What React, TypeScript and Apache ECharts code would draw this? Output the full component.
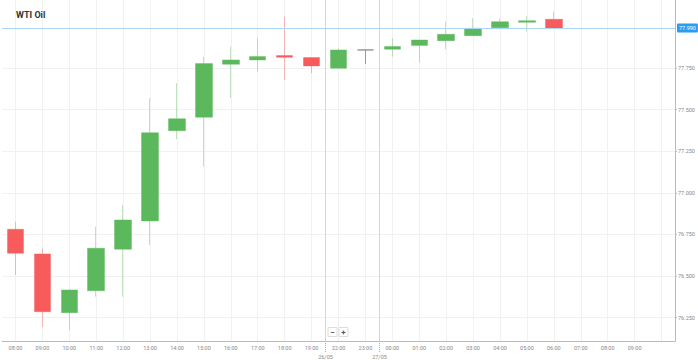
import React, { useEffect, useRef } from 'react';
import * as echarts from 'echarts';

const categories = ['08:00','09:00','10:00','11:00','12:00','13:00','14:00','15:00','16:00','17:00','18:00','19:00','22:00','23:00','00:00','01:00','02:00','03:00','04:00','05:00','06:00','07:00','08:00','09:00',''];
const opens  = [76.781, 76.633, 76.280, 76.412, 76.661, 76.831, 77.373, 77.454, 77.772, 77.798, 77.824, 77.812, 77.748, 77.858, 77.862, 77.884, 77.914, 77.944, 77.992, 78.024, 78.042];
const closes = [76.637, 76.286, 76.417, 76.667, 76.837, 77.361, 77.445, 77.776, 77.798, 77.818, 77.814, 77.762, 77.858, 77.858, 77.878, 77.918, 77.952, 77.988, 78.028, 78.034, 77.988];
const lows   = [76.507, 76.194, 76.176, 76.376, 76.376, 76.687, 77.322, 77.157, 77.568, 77.728, 77.678, 77.718, 77.748, 77.774, 77.818, 77.782, 77.862, 77.944, 77.992, 77.968, 77.988];
const highs  = [76.827, 76.667, 76.420, 76.797, 76.927, 77.568, 77.658, 77.818, 77.878, 77.928, 78.058, 77.812, 77.868, 77.862, 77.928, 77.918, 78.028, 78.048, 78.048, 78.062, 78.088];
const yTicks = [76.25, 76.5, 76.75, 77.0, 77.25, 77.5, 77.75];
const lastPrice = 77.99;
const dateBreaks = [{ after: 11, label: '26/05' }, { after: 13, label: '27/05' }];
const title = 'WTI Oil';

export default function App() {
  const ref = useRef<HTMLDivElement>(null);
  useEffect(() => {
    if (!ref.current) return;
    const chart = echarts.init(ref.current, null, { renderer: 'svg' });
    const data = categories.map((_, i) =>
      i < opens.length ? [opens[i], closes[i], lows[i], highs[i]] : '-'
    );
    const font = 'Roboto, Arial, sans-serif';
    chart.setOption({
      animation: false,
      backgroundColor: '#fff',
      title: {
        text: title, left: 11, top: 5,
        textStyle: { fontSize: 9, fontWeight: 'bold', color: '#333', fontFamily: font },
      },
      grid: { left: 2, right: 23, top: 0, bottom: 19 },
      xAxis: {
        type: 'category',
        data: categories,
        boundaryGap: true,
        axisLine: { lineStyle: { color: '#bbb' } },
        axisTick: { alignWithLabel: true, interval: 0, length: 2, lineStyle: { color: '#bbb' } },
        axisLabel: { interval: 0, fontSize: 5.5, color: '#888', margin: 4, fontFamily: font },
        splitLine: { show: true, interval: 0, alignWithLabel: true, lineStyle: { color: '#f1f1f1' } },
      },
      yAxis: {
        type: 'value',
        position: 'right',
        min: 76.11,
        max: 78.158,
        axisLine: { show: true, lineStyle: { color: '#bbb' } },
        axisTick: { show: true, length: 2, customValues: yTicks, lineStyle: { color: '#bbb' } },
        axisLabel: {
          customValues: yTicks, fontSize: 5.5, color: '#888', margin: 3, fontFamily: font,
          formatter: (v: number) => v.toFixed(3),
        },
        splitLine: { show: true, lineStyle: { color: '#f1f1f1' } },
      },
      series: [{
        type: 'candlestick',
        data,
        barWidth: 17,
        itemStyle: {
          color: '#5cb85c',
          color0: '#f75b5b',
          borderColor: 'rgba(92,184,92,0.4)',
          borderColor0: 'rgba(247,91,91,0.4)',
          borderColorDoji: '#999',
          borderWidth: 1,
        },
        markLine: {
          silent: true,
          symbol: ['none', 'none'],
          lineStyle: { color: '#add6f2', type: 'solid', width: 1 },
          label: {
            position: 'end', distance: 2,
            formatter: () => lastPrice.toFixed(3),
            backgroundColor: '#2b9cf2', color: '#fff', fontSize: 5.5,
            padding: [1.5, 2], borderRadius: 1, fontFamily: font,
          },
          data: [{ yAxis: lastPrice }],
        },
      }],
    });

    const gridBottom = 341;
    const elements: any[] = [];
    dateBreaks.forEach((b) => {
      const a = chart.convertToPixel({ xAxisIndex: 0 }, b.after) as number;
      const c = chart.convertToPixel({ xAxisIndex: 0 }, b.after + 1) as number;
      const x = Math.round((a + c) / 2) + 0.5;
      elements.push({
        type: 'line', silent: true,
        shape: { x1: x, y1: 0, x2: x, y2: gridBottom },
        style: { stroke: '#d6d6d6', lineWidth: 1 },
      });
      elements.push({
        type: 'line', silent: true,
        shape: { x1: x, y1: gridBottom, x2: x, y2: 352 },
        style: { stroke: '#aaa', lineWidth: 1, lineDash: [1, 1] },
      });
      elements.push({
        type: 'text', silent: true, x, y: 357,
        style: { text: b.label, fill: '#888', fontSize: 5.5, align: 'center', verticalAlign: 'middle', fontFamily: font },
      });
    });
    // zoom buttons
    [['−', 328], ['+', 339]].forEach(([t, x]) => {
      elements.push({
        type: 'rect', silent: true,
        shape: { x: x as number, y: 327.5, width: 9, height: 9 },
        style: { fill: '#fff', stroke: '#ddd', lineWidth: 1 },
      });
      elements.push({
        type: 'text', silent: true, x: (x as number) + 4.5, y: 332,
        style: { text: t as string, fill: '#555', fontSize: 8, fontWeight: 'bold', align: 'center', verticalAlign: 'middle', fontFamily: font },
      });
    });
    chart.setOption({ graphic: elements });

    return () => chart.dispose();
  }, []);
  return <div ref={ref} style={{ position: 'fixed', left: 0, top: 0, width: 698, height: 360 }} />;
}
